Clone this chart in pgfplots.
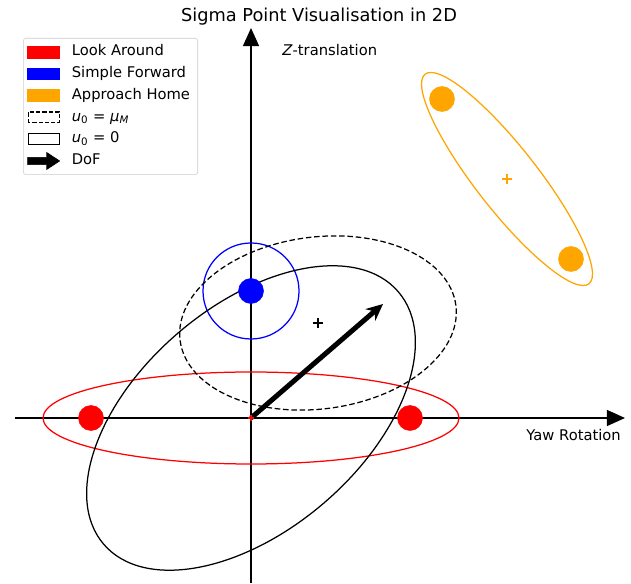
\documentclass[border=0pt]{standalone}
\usepackage{pgfplots}
\pgfplotsset{compat=1.18}
\usepackage{fontspec}
\setmainfont{DejaVu Sans}
\usetikzlibrary{arrows.meta}
\definecolor{mplorange}{RGB}{255,165,0}
\begin{document}
\begin{tikzpicture}[font=\fontsize{10.6}{12.7}\selectfont]
\begin{axis}[
  x=72pt, y=72pt,
  xmin=-2.36, xmax=3.74, ymin=-1.65, ymax=3.90,
  axis lines=middle,
  axis line style={line width=1pt, -{Triangle[length=13pt,width=11.5pt]}},
  xtick=\empty, ytick=\empty,
  clip=false,
  legend cell align=left,
  legend style={at={(axis cs:-2.28,3.80)}, anchor=north west, draw=black!20, rounded corners=2pt,
    font=\fontsize{10.6}{12.7}\selectfont, inner xsep=3pt, inner ysep=2pt,
    nodes={inner sep=2.6pt, text height=8pt, text depth=2.5pt}, row sep=0pt},
]
% sigma points
\addplot[only marks, mark=*, mark size=9pt, red, forget plot] coordinates {(-1.60,0) (1.59,0)};
\addplot[only marks, mark=*, mark size=9pt, blue, forget plot] coordinates {(0,1.27)};
\addplot[only marks, mark=*, mark size=9pt, mplorange, forget plot] coordinates {(1.91,3.19) (3.20,1.59)};
% centres
\addplot[only marks, mark=+, mark size=3.5pt, line width=1.1pt, black, forget plot] coordinates {(0.67,0.95)};
\addplot[only marks, mark=+, mark size=3.5pt, line width=1.1pt, mplorange, forget plot] coordinates {(2.56,2.39)};
\addplot[only marks, mark=+, mark size=2.5pt, line width=0.8pt, red, forget plot] coordinates {(0,0)};
% ellipses
\draw[red, line width=0.9pt] (axis cs:0,0) ellipse [x radius=2.08, y radius=0.46];
\draw[blue, line width=0.9pt] (axis cs:0,1.27) ellipse [x radius=0.48, y radius=0.48];
\draw[black, line width=0.9pt, dash pattern=on 4pt off 2pt, rotate around={7.2:(axis cs:0.67,0.95)}] (axis cs:0.67,0.95) ellipse [x radius=1.39, y radius=0.86];
\draw[black, line width=0.9pt, rotate around={40.6:(axis cs:0,0)}] (axis cs:0,0) ellipse [x radius=1.94, y radius=1.12];
\draw[mplorange, line width=0.9pt, rotate around={-52:(axis cs:2.56,2.39)}] (axis cs:2.56,2.39) ellipse [x radius=1.33, y radius=0.31];
% DoF arrow
\addplot[black, line width=3.6pt, -{Stealth[length=12pt, width=11pt]}, forget plot] coordinates {(0,0) (1.32,1.14)};
% legend
\addlegendimage{legend image code/.code={\fill[red, sharp corners] (0pt,-4.3pt) rectangle (23pt,4.3pt); \path (29pt,0pt);}}
\addlegendentry{Look Around}
\addlegendimage{legend image code/.code={\fill[blue, sharp corners] (0pt,-4.3pt) rectangle (23pt,4.3pt); \path (29pt,0pt);}}
\addlegendentry{Simple Forward}
\addlegendimage{legend image code/.code={\fill[mplorange, sharp corners] (0pt,-4.3pt) rectangle (23pt,4.3pt); \path (29pt,0pt);}}
\addlegendentry{Approach Home}
\addlegendimage{legend image code/.code={\draw[black, sharp corners, line width=0.8pt, dash pattern=on 3pt off 1.5pt] (0.4pt,-3.9pt) rectangle (22.6pt,3.9pt); \path (29pt,0pt);}}
\addlegendentry{\textit{u}\textsubscript{0} = \textit{μ}\textsubscript{\textit{M}}}
\addlegendimage{legend image code/.code={\draw[black, sharp corners, line width=0.8pt] (0.4pt,-3.9pt) rectangle (22.6pt,3.9pt); \path (29pt,0pt);}}
\addlegendentry{\textit{u}\textsubscript{0} = 0}
\addlegendimage{legend image code/.code={\fill[black, sharp corners] (0pt,-2.6pt) -- (13.7pt,-2.6pt) -- (13.7pt,-6.1pt) -- (23pt,0pt) -- (13.7pt,6.1pt) -- (13.7pt,2.6pt) -- (0pt,2.6pt) -- cycle; \path (29pt,0pt);}}
\addlegendentry{DoF}
% texts
\node[anchor=base, font=\fontsize{12.8}{15}\selectfont] at (axis cs:0.68,3.96) {Sigma Point Visualisation in 2D};
\node[anchor=base west, inner sep=0pt] at (axis cs:0.31,3.62) {\textit{Z}-translation};
\node[anchor=base east, inner sep=0pt] at (axis cs:3.70,-0.23) {Yaw Rotation};
\coordinate (bl) at (axis cs:-2.51,-1.65);
\coordinate (tr) at (axis cs:3.80,4.18);
\end{axis}
\pgfresetboundingbox
\path (bl) rectangle (tr);
\end{tikzpicture}
\end{document}
